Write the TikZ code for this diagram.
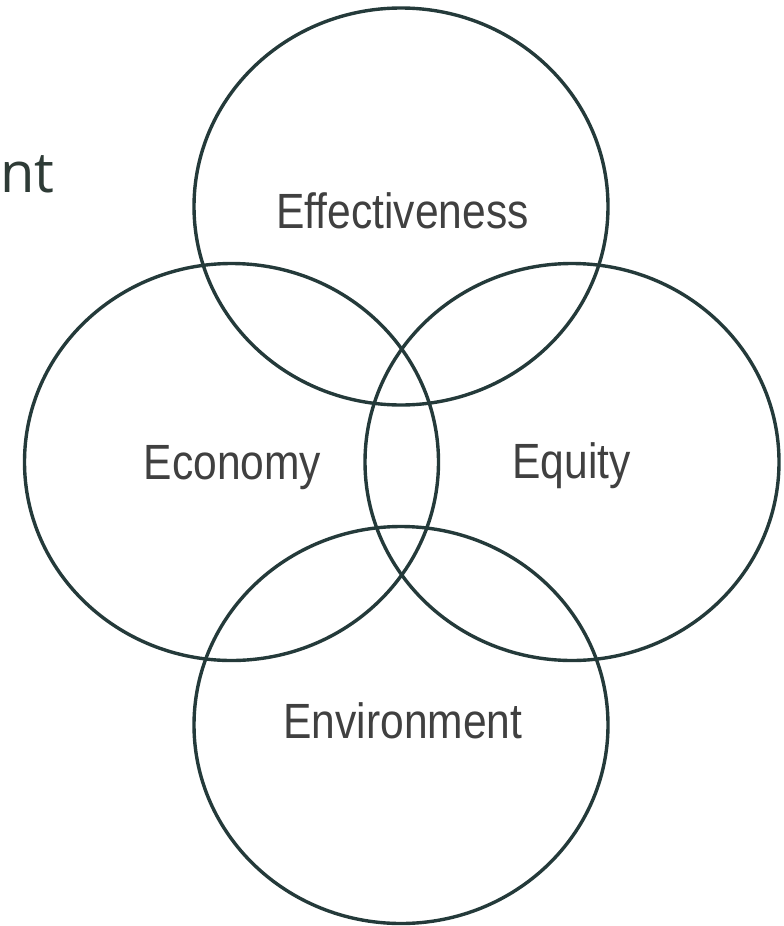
\documentclass[tikz,border=0pt]{standalone}
\usepackage{fontspec}
\setmainfont{Liberation Sans}[FakeStretch=0.86]
\newfontfamily\titlefont{Open Sans}
\usetikzlibrary{shapes.geometric}
\definecolor{ringcol}{RGB}{36,58,58}
\definecolor{lblcol}{RGB}{64,64,64}
\definecolor{ttlcol}{RGB}{46,59,54}
\tikzset{
    ring/.style={ellipse, draw=ringcol, line width=3.4pt, minimum width=414pt, minimum height=397pt, inner sep=0pt, outer sep=0pt},
    lbl/.style={anchor=base, text=lblcol, inner sep=0pt, font=\fontsize{49.5}{55}\selectfont}
}
\begin{document}
\begin{tikzpicture}[x=1pt,y=-1pt]
        \useasboundingbox (0,0) rectangle (784,926);
        \node[ring] (effect) at (401,206.5) {};
        \node[ring] (econ) at (231.5,462) {};
        \node[ring] (equity) at (572,462) {};
        \node[ring] (envir) at (401,725) {};
        \node[lbl] (effectlbl) at (402.5,228) {Effectiveness};
        \node[lbl] (econlbl) at (232.5,479) {Economy};
        \node[lbl] (equitylbl) at (571.5,478) {Equity};
        \node[lbl] (envirlbl) at (403,738) {Environment};
        \node[anchor=base west, inner sep=0pt, text=ttlcol, font=\titlefont\fontsize{56}{60}\selectfont] (title) at (0,192) {nt};
    \end{tikzpicture}
\end{document}
